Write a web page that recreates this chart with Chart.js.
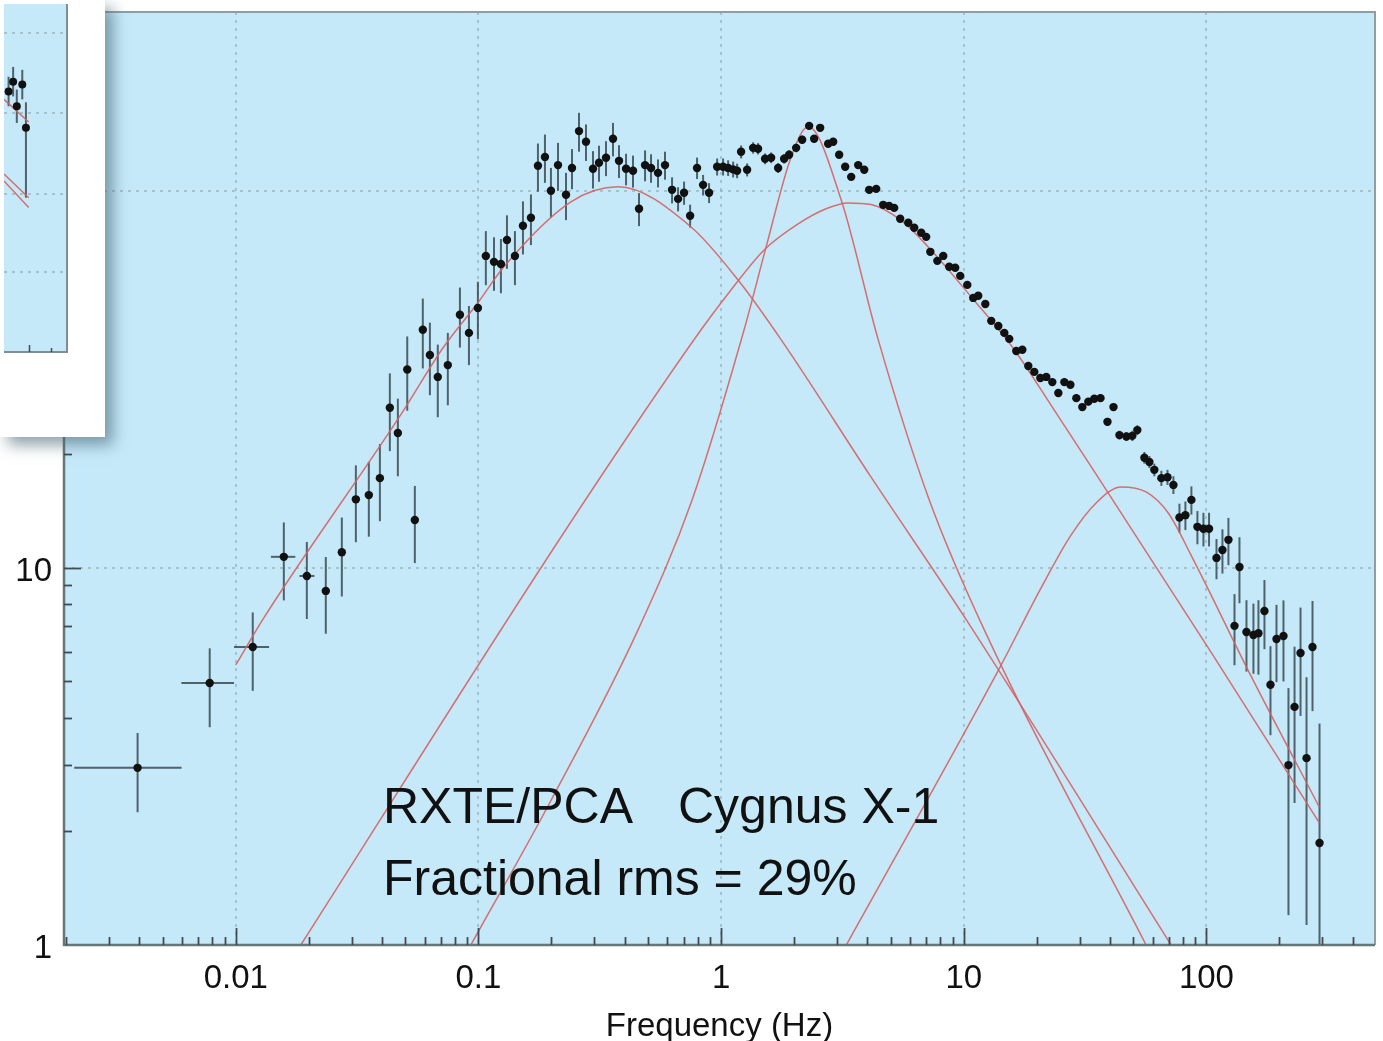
<!DOCTYPE html>
<html>
<head>
<meta charset="utf-8">
<title>Cygnus X-1 PDS</title>
<script src="https://cdn.jsdelivr.net/npm/chart.js@4.4.1/dist/chart.umd.min.js"></script>
<style>
  html, body { margin: 0; padding: 0; background: #fff; }
  #wrap { position: relative; width: 1383px; height: 1041px; overflow: hidden; }
  #main { position: absolute; left: 0; top: 0; }
  #inset { position: absolute; left: 0; top: 0; width: 105px; height: 437px; background: #fff;
           box-shadow: 8px 8px 14px rgba(70,100,115,0.6); z-index: 2; }
  #insetCanvas { position: absolute; left: 0; top: 0; }
</style>
</head>
<body>
<div id="wrap">
  <canvas id="main" width="1383" height="1041"></canvas>
  <div id="inset"><canvas id="insetCanvas" width="72" height="357"></canvas></div>
</div>
<script>
// Datos del espectro de potencia (frecuencia en Hz, potencia f*P)
const frecuencias = [
  0.00394, 0.00781, 0.01175, 0.01578, 0.01963, 0.0235, 0.02736, 0.03126, 0.03535, 0.03926,
  0.04315, 0.04656, 0.0509, 0.0547, 0.059, 0.0631, 0.068, 0.0748, 0.0839, 0.0914,
  0.0995, 0.1073, 0.1159, 0.1238, 0.1311, 0.1414, 0.1526, 0.1646, 0.1759, 0.188,
  0.199, 0.2128, 0.2296, 0.243, 0.2597, 0.2775, 0.2966, 0.314, 0.3356, 0.3586,
  0.3796, 0.4058, 0.4336, 0.459, 0.486, 0.5144, 0.5496, 0.5874, 0.6279, 0.6648,
  0.7037, 0.7453, 0.796, 0.843, 0.892, 0.963, 1.019, 1.069, 1.121, 1.164,
  1.209, 1.28, 1.355, 1.42, 1.518, 1.608, 1.718, 1.819, 1.907, 2.038,
  2.158, 2.306, 2.418, 2.56, 2.762, 2.897, 3.066, 3.246, 3.436, 3.673,
  3.889, 4.076, 4.357, 4.656, 4.929, 5.168, 5.47, 5.905, 6.25, 6.68,
  7.0, 7.28, 7.78, 8.23, 8.71, 9.22, 9.67, 10.34, 10.94, 11.47,
  12.27, 12.98, 13.88, 14.69, 15.4, 16.46, 17.43, 18.45, 19.53, 20.68,
  21.88, 23.17, 24.53, 25.97, 27.5, 29.1, 30.8, 32.6, 34.5, 36.6,
  39.1, 41.4, 43.8, 46.8, 49.5, 51.9, 55.5, 58.2, 61.0, 65.2,
  69.1, 73.1, 77.4, 81.9, 86.7, 91.8, 97.2, 102.5, 110, 116.4,
  123.2, 130.5, 136.8, 146.2, 156.2, 163.8, 173.4, 183.6, 194.4, 207.7,
  217.8, 230.7, 244.2, 258.5, 273.6, 292.4
];
const potencias = [
  2.95, 4.95, 6.17, 10.7, 9.52, 8.69, 11.0, 15.2, 15.6, 17.3,
  26.6, 22.8, 33.6, 13.4, 42.8, 36.7, 32.1, 34.5, 46.9, 42.0,
  48.9, 67.2, 64.8, 64.0, 74.1, 67.2, 80.8, 84.8, 116.5, 123,
  100, 117, 97.6, 115, 144, 135, 114.4, 118.7, 122.4, 137.4,
  120.1, 114.4, 113.0, 89.6, 117, 115, 111.6, 117, 100.6, 95.2,
  98.8, 85.9, 115, 103.7, 98.8, 115.8, 115.8, 115, 114, 113,
  126.9, 113.7, 130, 129.3, 121.6, 122.4, 115, 121.6, 124.6, 130,
  136.6, 148.7, 137.4, 146.9, 133.3, 134.9, 124.6, 115.8, 108.9, 117,
  113.7, 100.6, 101.2, 91.8, 91.2, 90.1, 84.3, 82.3, 79.8, 77.4,
  75.5, 68.9, 65.2, 67.2, 62.9, 62.5, 59.5, 56.3, 52.0, 52.7,
  50.1, 45.2, 43.8, 42.0, 40.5, 37.6, 37.9, 34.3, 33.1, 31.9,
  32.1, 31.1, 29.1, 31.1, 30.6, 28.2, 26.7, 27.6, 28.1, 28.2,
  24.4, 26.7, 22.5, 22.3, 22.4, 23.2, 19.6, 19.1, 18.2, 17.3,
  17.4, 16.6, 13.6, 13.8, 15.15, 12.85, 12.7, 12.7, 10.63, 11.16,
  11.87, 7.02, 10.06, 6.76, 6.64, 6.71, 7.69, 4.9, 6.48, 6.6,
  3.0, 4.28, 5.95, 3.13, 6.17, 1.865
];
const errores = [
  0.70, 1.17, 1.45, 2.5, 2.2, 2.0, 2.6, 3.5, 3.5, 4.0,
  6.2, 5.3, 7.5, 3.1, 9.0, 8.0, 7.0, 7.5, 8.5, 7.5,
  8.5, 11, 10.5, 10.5, 12, 11, 13, 13, 17, 18,
  15, 17, 14, 14, 17, 15, 13, 13, 13, 14,
  12, 11, 11, 9, 11, 10, 9.5, 10, 8, 7,
  7, 6, 7.5, 6.5, 6, 6, 6, 5.5, 5.5, 5,
  5, 4.5, 4.5, 4.5, 4, 4, 3.5, 3.5, 3.5, 3.5,
  3.5, 3.5, 3, 3, 3, 3, 2.5, 2.5, 2.2, 2.2,
  2, 2, 2, 1.7, 1.7, 1.6, 1.5, 1.4, 1.3, 1.3,
  1.2, 1.1, 1.0, 1.0, 1.0, 0.9, 0.9, 0.8, 0.8, 0.8,
  0.8, 0.7, 0.7, 0.7, 0.7, 0.6, 0.6, 0.6, 0.6, 0.6,
  0.6, 0.6, 0.6, 0.6, 0.6, 0.6, 0.6, 0.6, 0.6, 0.6,
  0.6, 0.6, 0.6, 0.6, 0.7, 0.7, 0.7, 0.7, 0.7, 0.8,
  0.8, 0.9, 1.2, 1.2, 1.3, 1.3, 1.3, 1.3, 1.3, 1.5,
  1.7, 1.5, 2.0, 1.45, 1.4, 1.5, 1.6, 1.3, 1.5, 1.6,
  1.8, 1.9, 1.9, 2.0, 2.0, 2.0
];
// Anchura de los primeros bins (barras horizontales)
const binInicio = [0.00216, 0.00597, 0.00984, 0.01396, 0.0183];
const binFin = [0.00598, 0.00984, 0.01372, 0.0176, 0.0211];

// Componentes lorentzianas del modelo
const lorBajaFreq = [0.01, 0.01305, 0.0479, 0.0714, 0.0995, 0.1274, 0.2406, 0.376, 0.752, 1.175, 1.767, 4.151, 10.44, 71.5];
const lorBajaPot = [5.53, 7.37, 25.5, 38.3, 50.5, 62.9, 93.5, 102.5, 80.2, 58.0, 40.3, 17.4, 7.15, 1.0];
const lorAnchaFreq = [0.01854, 0.219, 0.827, 1.099, 1.504, 2.077, 2.708, 3.337, 4.151, 5.517, 7.14, 10.74, 16.15, 23.6, 33.6, 104.9, 292];
const lorAnchaPot = [1.0, 12.08, 42.8, 54.6, 69.7, 81.7, 89.6, 92.9, 92.0, 83.5, 71.0, 52.3, 37.9, 26.2, 18.5, 5.95, 2.107];
const lorQpoFreq = [0.0931, 0.1993, 0.4548, 0.7594, 1.244, 1.533, 1.944, 2.285, 3.125, 4.44, 7.14, 12.15, 56.4];
const lorQpoPot = [1.0, 2.42, 6.85, 15.15, 42.8, 71.0, 123, 147.8, 94.6, 40.3, 15.4, 6.85, 1.0];
const lorAltaFreq = [3.28, 13.9, 20.83, 27.7, 35.1, 44.5, 56.4, 69.5, 86.5, 153.3, 292];
const lorAltaPot = [1.0, 5.36, 8.85, 12.23, 14.87, 16.4, 15.9, 14.0, 10.8, 5.14, 2.32];

// Ejes
const ticksX = [0.01, 0.1, 1, 10, 100];
const etiquetasX = ['0.01', '0.1', '1', '10', '100'];
const ticksY = [1, 10, 100];
const etiquetasY = ['1', '10', '100'];

// Recuadro insertado (fragmento de otra figura)
const insetX = [0.5, 1.0, 1.4, 2.0, 2.4];
const insetY = [26.6, 27.6, 25.1, 27.3, 22.9];
const insetErrAbajo = [1.5, 1.5, 1.7, 1.5, 7.1];
const insetErrArriba = [1.5, 1.5, 1.7, 1.5, 2.6];
const insetLineaX = [0, 2.7];
const insetLinea1 = [25.8, 23.5];
const insetLinea2 = [18.2, 15.8];
const insetLinea3 = [17.5, 14.8];
const insetRejilla = [8.2, 16.2, 24.4, 32.6];
const insetTicks = [2.7, 5.1];

const FUENTE = '"Liberation Sans", Arial, Helvetica, sans-serif';
const FONDO = '#c5e9f9';
const ROJO = 'rgba(214,96,98,0.9)';

function pares(xs, ys) {
    return xs.map((x, i) => ({ x: x, y: ys[i] }));
}

function curva(xs, ys) {
    return {
        data: pares(xs, ys),
        showLine: true,
        pointRadius: 0,
        pointHoverRadius: 0,
        borderColor: ROJO,
        borderWidth: 1.5,
        cubicInterpolationMode: 'monotone',
        fill: false
    };
}

// Plugin para el marco, la rejilla, barras de error y textos
const marco = {
    id: 'marco',
    beforeDraw(chart) {
        const { ctx, chartArea: a } = chart;
        ctx.save();
        ctx.fillStyle = '#fff';
        ctx.fillRect(0, 0, chart.width, chart.height);
        ctx.fillStyle = FONDO;
        ctx.fillRect(a.left, a.top, a.right - a.left, a.bottom - a.top);
        ctx.restore();
    },
    beforeDatasetsDraw(chart) {
        const { ctx, chartArea: a, scales: { x, y } } = chart;
        ctx.save();
        // Rejilla punteada
        ctx.strokeStyle = 'rgba(120,140,150,0.55)';
        ctx.lineWidth = 1.5;
        ctx.setLineDash([3, 5]);
        ticksX.forEach(v => {
            const px = Math.round(x.getPixelForValue(v));
            ctx.beginPath();
            ctx.moveTo(px, a.top);
            ctx.lineTo(px, a.bottom);
            ctx.stroke();
        });
        ticksY.slice(1).forEach(v => {
            const py = Math.round(y.getPixelForValue(v));
            ctx.beginPath();
            ctx.moveTo(a.left, py);
            ctx.lineTo(a.right, py);
            ctx.stroke();
        });
        ctx.setLineDash([]);

        // Barras de error
        ctx.beginPath();
        ctx.rect(a.left, a.top, a.right - a.left, a.bottom - a.top);
        ctx.clip();
        ctx.strokeStyle = 'rgba(45,60,66,0.78)';
        ctx.lineWidth = 2;
        frecuencias.forEach((f, i) => {
            const px = x.getPixelForValue(f);
            const bajo = Math.max(potencias[i] - errores[i], y.min);
            ctx.beginPath();
            ctx.moveTo(px, y.getPixelForValue(bajo));
            ctx.lineTo(px, y.getPixelForValue(potencias[i] + errores[i]));
            ctx.stroke();
        });
        binInicio.forEach((f0, i) => {
            const py = y.getPixelForValue(potencias[i]);
            ctx.beginPath();
            ctx.moveTo(x.getPixelForValue(f0), py);
            ctx.lineTo(x.getPixelForValue(binFin[i]), py);
            ctx.stroke();
        });
        ctx.restore();
    },
    afterDatasetsDraw(chart) {
        const { ctx, chartArea: a, scales: { x, y } } = chart;
        ctx.save();
        // Bordes superior y derecho
        ctx.strokeStyle = '#8f9ea5';
        ctx.lineWidth = 2;
        ctx.beginPath();
        ctx.moveTo(a.left, a.top);
        ctx.lineTo(a.right, a.top);
        ctx.lineTo(a.right, a.bottom);
        ctx.stroke();
        // Ejes inferior e izquierdo
        ctx.strokeStyle = '#66767d';
        ctx.lineWidth = 2.5;
        ctx.beginPath();
        ctx.moveTo(a.left, a.top);
        ctx.lineTo(a.left, a.bottom);
        ctx.lineTo(a.right, a.bottom);
        ctx.stroke();

        // Marcas de los ejes (hacia dentro)
        ctx.strokeStyle = '#3f4d53';
        ctx.lineWidth = 1.8;
        for (let d = -3; d <= 2; d++) {
            for (let k = 1; k <= 9; k++) {
                const v = k * Math.pow(10, d);
                if (v <= x.min || v >= x.max) continue;
                const px = Math.round(x.getPixelForValue(v)) + 0.5;
                const largo = k === 1 ? 17 : 8;
                ctx.beginPath();
                ctx.moveTo(px, a.bottom);
                ctx.lineTo(px, a.bottom - largo);
                ctx.stroke();
            }
        }
        for (let d = 0; d <= 2; d++) {
            for (let k = 1; k <= 9; k++) {
                const v = k * Math.pow(10, d);
                if (v <= y.min || v >= y.max) continue;
                const py = Math.round(y.getPixelForValue(v)) + 0.5;
                const largo = k === 1 ? 17 : 8;
                ctx.beginPath();
                ctx.moveTo(a.left, py);
                ctx.lineTo(a.left + largo, py);
                ctx.stroke();
            }
        }

        // Etiquetas
        ctx.fillStyle = '#111';
        ctx.font = '33px ' + FUENTE;
        ctx.textAlign = 'center';
        ctx.textBaseline = 'alphabetic';
        ticksX.forEach((v, i) => {
            ctx.fillText(etiquetasX[i], x.getPixelForValue(v), 988);
        });
        ctx.textAlign = 'right';
        ticksY.forEach((v, i) => {
            ctx.fillText(etiquetasY[i], a.left - 12, y.getPixelForValue(v) + 13);
        });
        ctx.textAlign = 'center';
        ctx.fillText('Frequency (Hz)', (a.left + a.right) / 2, 1036);

        // Anotaciones
        ctx.font = '50px ' + FUENTE;
        ctx.textAlign = 'left';
        ctx.fillText('RXTE/PCA', 383, 823);
        ctx.fillText('Cygnus X-1', 678, 823);
        ctx.fillText('Fractional rms = 29%', 383, 895);
        ctx.restore();
    }
};

new Chart(document.getElementById('main'), {
    type: 'scatter',
    data: {
        datasets: [
            {
                label: 'PDS',
                data: pares(frecuencias, potencias),
                pointRadius: 4.2,
                pointHoverRadius: 4.2,
                backgroundColor: '#111',
                borderWidth: 0
            },
            curva(lorBajaFreq, lorBajaPot),
            curva(lorAnchaFreq, lorAnchaPot),
            curva(lorQpoFreq, lorQpoPot),
            curva(lorAltaFreq, lorAltaPot)
        ]
    },
    options: {
        responsive: false,
        animation: false,
        events: [],
        layout: { padding: { left: 64, top: 12, right: 8, bottom: 96 } },
        scales: {
            x: { type: 'logarithmic', min: 0.00196, max: 495, display: false },
            y: { type: 'logarithmic', min: 1, max: 298, display: false }
        },
        plugins: {
            legend: { display: false },
            tooltip: { enabled: false }
        }
    },
    plugins: [marco]
});

// Recuadro pequeño arriba a la izquierda
const marcoInset = {
    id: 'marcoInset',
    beforeDraw(chart) {
        const { ctx, chartArea: a } = chart;
        ctx.save();
        ctx.fillStyle = '#fff';
        ctx.fillRect(0, 0, chart.width, chart.height);
        ctx.fillStyle = FONDO;
        ctx.fillRect(a.left, a.top, a.right - a.left, a.bottom - a.top);
        ctx.restore();
    },
    beforeDatasetsDraw(chart) {
        const { ctx, chartArea: a, scales: { x, y } } = chart;
        ctx.save();
        ctx.strokeStyle = 'rgba(120,140,150,0.55)';
        ctx.lineWidth = 1.5;
        ctx.setLineDash([3, 5]);
        insetRejilla.forEach(v => {
            const py = Math.round(y.getPixelForValue(v));
            ctx.beginPath();
            ctx.moveTo(a.left, py);
            ctx.lineTo(a.right, py);
            ctx.stroke();
        });
        ctx.setLineDash([]);
        ctx.strokeStyle = 'rgba(45,60,66,0.78)';
        ctx.lineWidth = 2;
        insetX.forEach((v, i) => {
            const px = x.getPixelForValue(v);
            ctx.beginPath();
            ctx.moveTo(px, y.getPixelForValue(insetY[i] - insetErrAbajo[i]));
            ctx.lineTo(px, y.getPixelForValue(insetY[i] + insetErrArriba[i]));
            ctx.stroke();
        });
        ctx.restore();
    },
    afterDatasetsDraw(chart) {
        const { ctx, chartArea: a, scales: { x } } = chart;
        ctx.save();
        ctx.strokeStyle = '#7f8e95';
        ctx.lineWidth = 2;
        ctx.beginPath();
        ctx.moveTo(a.right - 1, a.top);
        ctx.lineTo(a.right - 1, a.bottom - 1);
        ctx.lineTo(a.left, a.bottom - 1);
        ctx.stroke();
        ctx.strokeStyle = '#3f4d53';
        ctx.lineWidth = 1.5;
        insetTicks.forEach((v, i) => {
            const px = Math.round(x.getPixelForValue(v)) + 0.5;
            ctx.beginPath();
            ctx.moveTo(px, a.bottom - 1);
            ctx.lineTo(px, a.bottom - (i === 0 ? 8 : 5));
            ctx.stroke();
        });
        ctx.restore();
    }
};

const lineaInset = ys => ({
    data: pares(insetLineaX, ys),
    showLine: true,
    pointRadius: 0,
    borderColor: ROJO,
    borderWidth: 1.5,
    fill: false
});

new Chart(document.getElementById('insetCanvas'), {
    type: 'scatter',
    data: {
        datasets: [
            {
                data: pares(insetX, insetY),
                pointRadius: 4,
                backgroundColor: '#111',
                borderWidth: 0
            },
            lineaInset(insetLinea1),
            lineaInset(insetLinea2),
            lineaInset(insetLinea3)
        ]
    },
    options: {
        responsive: false,
        animation: false,
        events: [],
        layout: { padding: { left: 0, top: 0, right: 2, bottom: 2 } },
        scales: {
            x: { type: 'linear', min: 0, max: 7, display: false },
            y: { type: 'linear', min: 0, max: 35.5, display: false }
        },
        plugins: {
            legend: { display: false },
            tooltip: { enabled: false }
        }
    },
    plugins: [marcoInset]
});
</script>
</body>
</html>
